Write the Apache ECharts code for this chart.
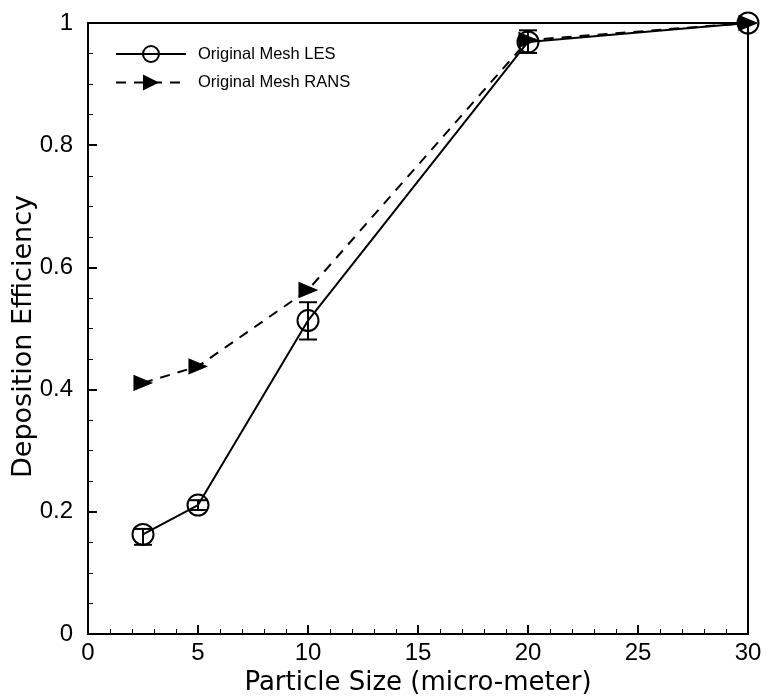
<!DOCTYPE html>
<html>
<head>
<meta charset="utf-8">
<script src="https://cdn.jsdelivr.net/npm/echarts@6/dist/echarts.min.js"></script>
<style>html,body{margin:0;padding:0;background:#fff;}#c{width:768px;height:696px;}</style>
</head>
<body>
<div id="c"></div>
<script>
var lesX = [2.5, 5, 10, 20, 30];
var lesY = [0.163, 0.211, 0.513, 0.969, 1.0];
var lesErrLow = [0.146, 0.203, 0.482, 0.951, null];
var lesErrHigh = [0.172, 0.219, 0.543, 0.988, null];
var ransX = [2.5, 5, 10, 20, 30];
var ransY = [0.411, 0.438, 0.563, 0.972, 1.0];
var xTicks = [0, 5, 10, 15, 20, 25, 30];
var yTicks = [0, 0.2, 0.4, 0.6, 0.8, 1];

var font = 'Liberation Sans, Arial, Helvetica, sans-serif';
var narrow = 'Liberation Sans Narrow, Arial Narrow, Liberation Sans, sans-serif';
var wide = 'DejaVu Sans, Verdana, sans-serif';
var chart = echarts.init(document.getElementById('c'));
var lesData = lesX.map(function (x, i) { return [x, lesY[i]]; });
var ransData = ransX.map(function (x, i) { return [x, ransY[i]]; });
var errData = [];
lesX.forEach(function (x, i) { if (lesErrLow[i] != null) errData.push([x, lesErrLow[i], lesErrHigh[i]]); });

chart.setOption({
  animation: false,
  backgroundColor: '#fff',
  grid: { left: 88, right: 20, top: 23, bottom: 62, containLabel: false, outerBoundsMode: 'none',
    show: true, borderColor: '#000', borderWidth: 2, backgroundColor: 'transparent' },
  legend: {
    left: 110, top: 40, orient: 'vertical', itemWidth: 70, itemHeight: 20, itemGap: 11,
    textStyle: { fontFamily: font, fontSize: 16.5, color: '#000', padding: [0, 0, 0, 7] },
    data: ['Original Mesh LES', 'Original Mesh RANS']
  },
  xAxis: {
    type: 'value', min: 0, max: 30, interval: 5,
    name: 'Particle Size (micro-meter)', nameLocation: 'middle', nameGap: 28,
    nameTextStyle: { fontFamily: wide, fontSize: 26, color: '#000' },
    axisLine: { show: true, lineStyle: { color: '#000', width: 2 } },
    axisTick: { show: true, inside: false, length: -9, lineStyle: { color: '#000', width: 2 } },
    minorTick: { show: true, splitNumber: 5, length: -5, lineStyle: { color: '#000', width: 1 } },
    axisLabel: { fontFamily: narrow, fontSize: 24, color: '#000', margin: 7,
      formatter: function (v) { return xTicks.indexOf(v) >= 0 ? String(v) : ''; } },
    splitLine: { show: false }
  },
  yAxis: {
    type: 'value', min: 0, max: 1, interval: 0.2,
    name: 'Deposition Efficiency', nameLocation: 'middle', nameGap: 51, nameMoveOverlap: false,
    nameTextStyle: { fontFamily: wide, fontSize: 27, color: '#000', padding: [0, 16, 0, 0] },
    axisLine: { show: true, lineStyle: { color: '#000', width: 2 } },
    axisTick: { show: true, inside: false, length: -9, lineStyle: { color: '#000', width: 2 } },
    minorTick: { show: true, splitNumber: 4, length: -5, lineStyle: { color: '#000', width: 1 } },
    axisLabel: { fontFamily: narrow, fontSize: 24, color: '#000', margin: 15,
      formatter: function (v) { var r = Math.round(v * 10) / 10; return yTicks.indexOf(r) >= 0 ? String(r) : ''; } },
    splitLine: { show: false }
  },
  series: [
    {
      name: 'Original Mesh LES', type: 'line', data: lesData,
      symbol: 'circle', symbolSize: 21,
      itemStyle: { color: 'rgba(0,0,0,0)', borderColor: '#000', borderWidth: 2 },
      lineStyle: { color: '#000', width: 2, type: 'solid' },
      z: 2
    },
    {
      name: 'Original Mesh RANS', type: 'line', data: ransData,
      symbol: 'triangle', symbolSize: [15, 18], symbolRotate: -90,
      itemStyle: { color: '#000', borderColor: '#000' },
      lineStyle: { color: '#000', width: 2, type: [10, 8] },
      z: 3
    },
    {
      type: 'custom', name: 'err', data: errData, z: 4,
      renderItem: function (params, api) {
        var x = api.value(0);
        var lo = api.coord([x, api.value(1)]);
        var hi = api.coord([x, api.value(2)]);
        var w = 9;
        var st = { stroke: '#000', lineWidth: 2 };
        return {
          type: 'group',
          children: [
            { type: 'line', shape: { x1: lo[0], y1: lo[1], x2: hi[0], y2: hi[1] }, style: st },
            { type: 'line', shape: { x1: lo[0] - w, y1: lo[1], x2: lo[0] + w, y2: lo[1] }, style: st },
            { type: 'line', shape: { x1: hi[0] - w, y1: hi[1], x2: hi[0] + w, y2: hi[1] }, style: st }
          ]
        };
      },
      encode: { x: 0, y: [1, 2] },
      silent: true
    }
  ]
});
</script>
</body>
</html>
